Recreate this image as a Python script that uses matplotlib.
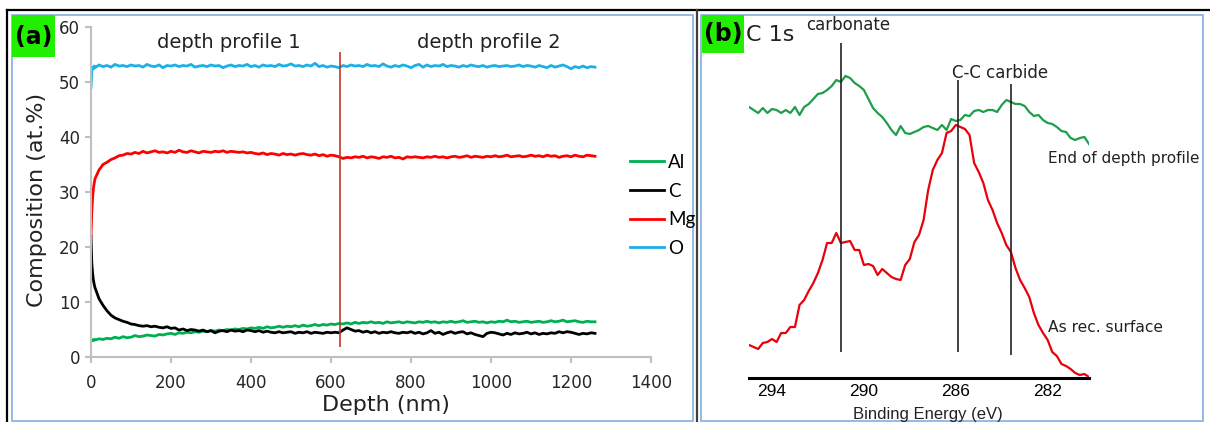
import matplotlib.pyplot as plt
import numpy as np

# ---- panel (a): XPS depth profile, composition in at.% ----
depth = np.concatenate([[0, 2, 4, 6, 8], np.arange(10, 1261, 10)])

al = [2.8, 3.0, 3.1, 3.0, 3.2,
      3.1, 3.3, 3.2, 3.4, 3.3, 3.6, 3.4, 3.7, 3.5, 3.6,
      3.9, 3.7, 3.8, 4.0, 3.9, 3.8, 4.1, 4.0, 4.2, 4.3,
      4.1, 4.4, 4.3, 4.5, 4.4, 4.6, 4.5, 4.7, 4.6, 4.8,
      4.7, 4.9, 4.8, 5.0, 4.9, 5.1, 5.0, 5.2, 5.1, 5.3,
      5.2, 5.4, 5.2, 5.5, 5.3, 5.4, 5.6, 5.4, 5.6, 5.5,
      5.7, 5.5, 5.8, 5.6, 5.7, 5.9, 5.7, 5.9, 5.8, 6.0,
      5.9, 6.1, 6.0, 6.2, 6.0, 6.3, 6.1, 6.3, 6.2, 6.4,
      6.2, 6.3, 6.1, 6.4, 6.2, 6.3, 6.4, 6.2, 6.4, 6.3,
      6.2, 6.4, 6.3, 6.5, 6.3, 6.4, 6.2, 6.4, 6.3, 6.5,
      6.3, 6.4, 6.6, 6.3, 6.4, 6.5, 6.3, 6.4, 6.2, 6.4,
      6.3, 6.5, 6.4, 6.7, 6.4, 6.5, 6.3, 6.4, 6.5, 6.3,
      6.4, 6.5, 6.3, 6.4, 6.6, 6.4, 6.5, 6.7, 6.4, 6.5,
      6.6, 6.4, 6.3, 6.5, 6.4, 6.4]

c = [22.0, 17.0, 15.2, 14.0, 13.2,
     12.6, 10.6, 9.4, 8.4, 7.6, 7.1, 6.8, 6.5, 6.3, 6.0,
     5.9, 5.7, 5.6, 5.7, 5.5, 5.6, 5.4, 5.3, 5.5, 5.2,
     5.3, 4.9, 5.1, 4.8, 5.0, 4.9, 4.7, 4.9, 4.6, 4.8,
     4.4, 4.7, 4.8, 4.6, 4.9, 4.7, 4.8, 4.6, 4.9, 4.8,
     4.6, 4.8, 4.5, 4.7, 4.5, 4.4, 4.6, 4.4, 4.5, 4.6,
     4.3, 4.5, 4.4, 4.6, 4.3, 4.5, 4.4, 4.3, 4.5, 4.4,
     4.5, 4.4, 4.9, 5.3, 5.0, 4.7, 4.8, 4.5, 4.7, 4.4,
     4.6, 4.3, 4.5, 4.4, 4.6, 4.4, 4.3, 4.5, 4.4, 4.6,
     4.3, 4.5, 4.2, 4.4, 4.8, 4.3, 4.5, 4.1, 4.4, 4.6,
     4.3, 4.5, 4.6, 4.2, 4.4, 4.1, 3.9, 3.7, 4.3, 4.5,
     4.4, 4.2, 4.0, 4.3, 4.1, 4.4, 4.2, 4.3, 4.5, 4.2,
     4.4, 4.1, 4.3, 4.2, 4.4, 4.3, 4.6, 4.4, 4.6, 4.5,
     4.3, 4.1, 4.3, 4.2, 4.4, 4.3]

mg = [22.0, 26.5, 29.0, 30.6, 31.6,
      32.4, 34.0, 35.0, 35.4, 35.9, 36.2, 36.6, 36.7, 37.0, 36.9,
      37.2, 37.0, 37.4, 37.1, 37.3, 37.5, 37.2, 37.3, 37.1, 37.4,
      37.2, 37.6, 37.3, 37.2, 37.5, 37.3, 37.1, 37.4, 37.3, 37.2,
      37.4, 37.3, 37.5, 37.2, 37.4, 37.3, 37.2, 37.3, 37.1, 37.2,
      37.0, 36.9, 37.1, 36.8, 37.0, 36.9, 36.7, 37.0, 36.8, 36.9,
      36.7, 36.9, 37.0, 36.8, 36.7, 36.9, 36.6, 36.8, 36.5, 36.7,
      36.6, 36.4, 36.1, 36.3, 36.2, 36.4, 36.3, 36.5, 36.2, 36.4,
      36.3, 36.1, 36.4, 36.3, 36.5, 36.2, 36.3, 36.0, 36.4, 36.3,
      36.4, 36.3, 36.2, 36.4, 36.3, 36.5, 36.3, 36.4, 36.2, 36.4,
      36.5, 36.3, 36.4, 36.6, 36.3, 36.5, 36.4, 36.3, 36.5, 36.4,
      36.6, 36.4, 36.5, 36.7, 36.4, 36.5, 36.6, 36.4, 36.5, 36.7,
      36.5, 36.6, 36.4, 36.7, 36.5, 36.6, 36.3, 36.5, 36.6, 36.4,
      36.7, 36.5, 36.4, 36.7, 36.6, 36.5]

o = [49.0, 52.0, 52.6, 52.4, 52.9,
     52.6, 53.1, 52.8, 53.0, 52.7, 53.2, 52.9, 53.0, 52.8, 53.1,
     52.9, 53.0, 52.7, 53.2, 52.9, 52.8, 53.1, 52.6, 53.0, 52.9,
     53.1, 52.8, 53.0, 52.9, 53.2, 52.7, 52.9, 53.0, 52.8, 53.1,
     52.9, 53.0, 52.6, 52.9, 53.1, 52.8, 53.0, 52.9, 53.2, 52.8,
     53.0, 52.7, 53.1, 52.9, 53.0, 52.8, 53.2, 52.9, 53.0, 53.3,
     52.9, 53.0, 52.8, 53.1, 52.9, 53.4, 52.8, 53.0, 52.7, 52.9,
     52.8, 52.6, 53.0, 52.8, 53.1, 52.9, 53.0, 52.8, 53.2, 52.9,
     53.0, 52.8, 53.3, 52.9, 52.7, 53.0, 52.8, 53.1, 52.9, 52.6,
     53.0, 53.2, 52.7, 53.1, 52.8, 53.0, 52.9, 53.2, 52.8, 53.0,
     52.9, 52.7, 53.0, 52.8, 53.1, 52.9, 52.8, 53.0, 52.7, 52.9,
     53.0, 52.8, 52.9, 53.0, 52.8, 52.9, 53.1, 52.8, 53.0, 52.9,
     52.7, 53.0, 52.8, 52.6, 53.0, 52.7, 52.9, 53.1, 52.8, 52.4,
     52.8, 52.6, 52.9, 52.6, 52.8, 52.7]

profile_split = 622          # nm, boundary between the two depth profiles
split_from, split_to = 1.8, 55.5

# ---- panel (b): C 1s spectra (arbitrary intensity) ----
energy = np.round(np.arange(295.0, 280.1, -0.2), 1)

end_profile = [293, 290, 287, 292, 287, 291, 290, 287, 290, 287,
               293, 285, 293, 296, 301, 306, 307, 310, 314, 320,
               318, 324, 322, 317, 314, 310, 301, 292, 287, 283,
               277, 270, 265, 274, 267, 266, 268, 270, 273, 274,
               272, 270, 275, 270, 281, 279, 280, 285, 284, 289,
               290, 288, 290, 290, 288, 295, 300, 298, 296, 296,
               294, 288, 284, 285, 280, 277, 276, 273, 269, 268,
               262, 260, 262, 263, 256]

as_received = [55, 53, 51, 57, 58, 61, 58, 67, 67, 73,
               73, 95, 100, 109, 117, 127, 140, 157, 157, 167,
               157, 158, 159, 150, 150, 135, 136, 134, 125, 131,
               127, 123, 121, 120, 135, 141, 158, 165, 180, 210,
               230, 240, 247, 267, 269, 275, 273, 271, 265, 237,
               228, 217, 200, 190, 177, 167, 155, 148, 132, 120,
               112, 103, 87, 75, 67, 60, 48, 44, 36, 34,
               31, 27, 25, 26, 23]

peak_pos = [291.0, 285.9, 283.6]
peak_top = [357, 320, 316]
peak_bottom = [48, 48, 45]
be_ticks = [294, 290, 286, 282]

W, H = 1210, 422


def frac(x0, y0, x1, y1):
    return [x0 / W, 1 - y1 / H, (x1 - x0) / W, (y1 - y0) / H]


fig = plt.figure(figsize=(W / 100, H / 100), dpi=100)

# background layer in pixel coordinates for frames and labels
bg = fig.add_axes([0, 0, 1, 1])
bg.set_xlim(0, W)
bg.set_ylim(H, 0)
bg.axis('off')

blue = '#8db4e2'
bg.plot([7, W], [10, 10], color='black', lw=1.6)
bg.plot([7, 7], [10, H], color='black', lw=1.6)
bg.plot([697, 697], [10, H], color='#404040', lw=1.6)
bg.add_patch(plt.Rectangle((12, 15), 681, 406, fill=False, ec=blue, lw=1.3))
bg.add_patch(plt.Rectangle((701, 15), 502, 406, fill=False, ec=blue, lw=1.3))

lime = '#22ee00'
bg.add_patch(plt.Rectangle((12, 15), 43, 42, color=lime, lw=0))
bg.add_patch(plt.Rectangle((702, 15), 42, 38, color=lime, lw=0))
bg.text(34, 37, '(a)', fontsize=17, fontweight='bold', ha='center', va='center')
bg.text(723, 34, '(b)', fontsize=17, fontweight='bold', ha='center', va='center')
bg.text(746, 35, 'C 1s', fontsize=16, ha='left', va='center', color='#222222')

# ---- panel (a) ----
ax = fig.add_axes(frac(91, 27, 651, 357))
ax.patch.set_alpha(0)
ax.plot(depth, al, color='#00b050', lw=2, label='Al')
ax.plot(depth, c, color='black', lw=2, label='C')
ax.plot(depth, mg, color='#ff0000', lw=2, label='Mg')
ax.plot(depth, o, color='#1cb0e8', lw=2, label='O')
ax.vlines(profile_split, split_from, split_to, color='#c0392b', lw=1.2)

ax.set_xlim(0, 1400)
ax.set_ylim(0, 60)
ax.set_xticks(range(0, 1401, 200))
ax.set_yticks(range(0, 61, 10))
for s in ['top', 'right']:
    ax.spines[s].set_visible(False)
for s in ['left', 'bottom']:
    ax.spines[s].set_color('#bfbfbf')
    ax.spines[s].set_linewidth(1.5)
ax.tick_params(axis='both', color='#bfbfbf', width=1.5, length=4,
               labelsize=12, labelcolor='#262626')
ax.tick_params(axis='x', pad=8)
ax.tick_params(axis='y', pad=4)

bg.text(229, 42, 'depth profile 1', fontsize=14, ha='center', va='center', color='#222222')
bg.text(489, 42, 'depth profile 2', fontsize=14, ha='center', va='center', color='#222222')
bg.text(37, 200, 'Composition (at.%)', fontsize=16, rotation=90,
        ha='center', va='center', color='#222222')
bg.text(386, 405, 'Depth (nm)', fontsize=16, ha='center', va='center', color='#222222')

fig.legend(loc='upper left', bbox_to_anchor=(630 / W, 1 - 154 / H),
           frameon=False, borderpad=0, borderaxespad=0,
           handlelength=1.83, handletextpad=0.22, labelspacing=0.62,
           prop={'family': 'Lato', 'size': 13.5})

# ---- panel (b) ----
bx = fig.add_axes(frac(749, 20, 1089, 400))
bx.patch.set_alpha(0)
bx.plot(energy, end_profile, color='#1e9e4a', lw=1.6)
bx.plot(energy, as_received, color='#e8000b', lw=1.6)
bx.vlines(peak_pos, peak_bottom, peak_top, color='#222222', lw=1.2)
bx.set_xlim(295.0, 280.2)
bx.set_ylim(0, 380)
for s in ['top', 'right', 'left']:
    bx.spines[s].set_visible(False)
bx.spines['bottom'].set_position(('data', 22))
bx.spines['bottom'].set_linewidth(2.2)
bx.spines['bottom'].set_bounds(295.0, 280.2)
bx.set_yticks([])
bx.set_xticks(be_ticks)
bx.tick_params(axis='x', length=0, pad=4, labelsize=12.5)
for lab in bx.get_xticklabels():
    lab.set_fontfamily('Liberation Sans')

bg.text(848, 25, 'carbonate', fontsize=12, ha='center', va='center', color='#222222')
bg.text(1000, 73, 'C-C carbide', fontsize=12, ha='center', va='center', color='#222222')
bg.text(1048, 158, 'End of depth profile', fontsize=11, ha='left', va='center', color='#222222')
bg.text(1048, 328, 'As rec. surface', fontsize=11.2, ha='left', va='center', color='#222222')
bg.text(928, 414, 'Binding Energy (eV)', fontsize=12, ha='center', va='center',
        family='Liberation Sans', color='#222222')

fig.savefig('out.png', dpi=100)
